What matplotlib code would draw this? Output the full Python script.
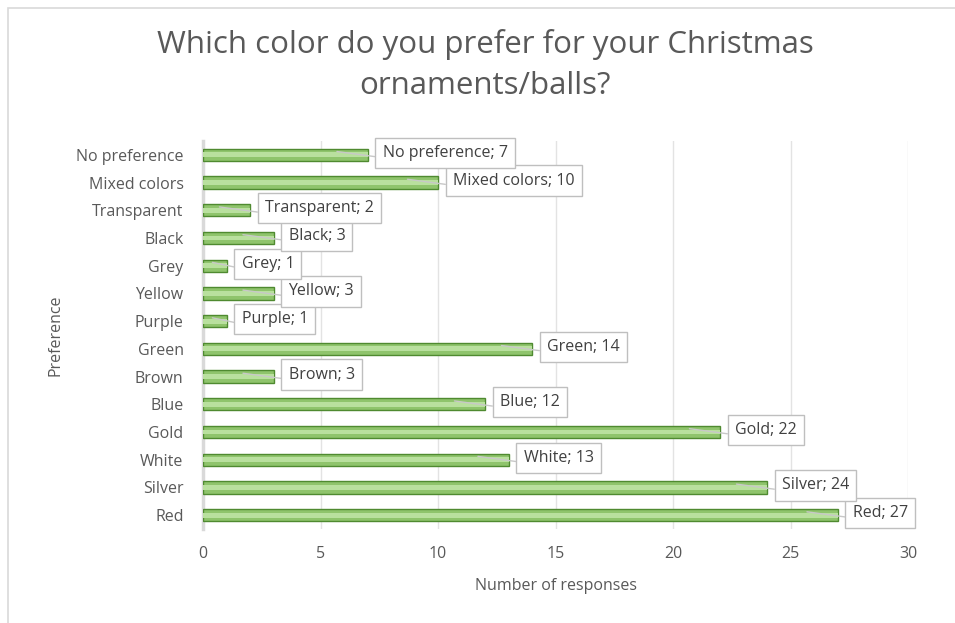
import matplotlib
matplotlib.use("Agg")
import matplotlib.pyplot as plt
from matplotlib.patches import Rectangle
from matplotlib.transforms import offset_copy

categories = ["Red", "Silver", "White", "Gold", "Blue", "Brown", "Green",
              "Purple", "Yellow", "Grey", "Black", "Transparent",
              "Mixed colors", "No preference"]
values = [27, 24, 13, 22, 12, 3, 14, 1, 3, 1, 3, 2, 10, 7]
title = "Which color do you prefer for your Christmas\nornaments/balls?"
xlabel = "Number of responses"
ylabel = "Preference"
xticks = [0, 5, 10, 15, 20, 25, 30]

plt.rcParams['font.family'] = ['Open Sans', 'DejaVu Sans']
txt = '#595959'

fig = plt.figure(figsize=(9.55, 6.23), dpi=100)
ax = fig.add_axes([203/955, 1-529/623, (908-203)/955, (529-141)/623])

# figure border
fig.patches.append(Rectangle((7.5/955, -0.1), 1.2, 1 - 7.5/623 + 0.1,
                             transform=fig.transFigure, fill=False,
                             edgecolor='#d9d9d9', linewidth=1.2))

ypos = list(range(len(categories)))
ax.barh(ypos, values, height=0.44, color='#8fc46c', edgecolor='#4f8a30',
        linewidth=1.0, zorder=3)
ax.barh(ypos, values, height=0.18, color='#b9e09e', edgecolor='none',
        zorder=4)

trans = offset_copy(ax.transData, fig=fig, x=15, y=2, units='dots')
for y, v, c in zip(ypos, values, categories):
    ax.annotate(f"{c}; {v}", xy=(max(v - 1.3, 0.4), y + 0.12), xytext=(v, y),
                textcoords=trans, ha='left', va='center', fontsize=11.5,
                color='#404040', zorder=6,
                bbox=dict(boxstyle='square,pad=0.45', fc='white',
                          ec='#bfbfbf', lw=1.0),
                arrowprops=dict(arrowstyle='-', color='#c8c8c8', lw=1.0,
                                shrinkA=0, shrinkB=0, relpos=(0, 0.2)))

ax.set_xlim(0, 30)
ax.set_ylim(-0.5, len(categories) - 0.5)
ax.set_xticks(xticks)
ax.set_yticks(ypos)
ax.set_yticklabels(categories)
ax.grid(axis='x', color='#e3e3e3', linewidth=1.0, zorder=0)
ax.set_axisbelow(True)
for s in ['top', 'right', 'bottom']:
    ax.spines[s].set_visible(False)
ax.spines['left'].set_color('#d9d9d9')
ax.spines['left'].set_linewidth(2.5)
ax.tick_params(axis='both', length=0, colors=txt, labelsize=11.5)
ax.tick_params(axis='x', pad=12)
ax.tick_params(axis='y', pad=14)

ax.set_xlabel(xlabel, color=txt, fontsize=11.5, labelpad=12)
ax.set_ylabel(ylabel, color=txt, fontsize=11.5, labelpad=9)
fig.text(485/955, 1 - 65/623, title, ha='center', va='center',
         fontsize=22.5, color=txt, linespacing=1.45)

fig.savefig("out.png", dpi=100)
